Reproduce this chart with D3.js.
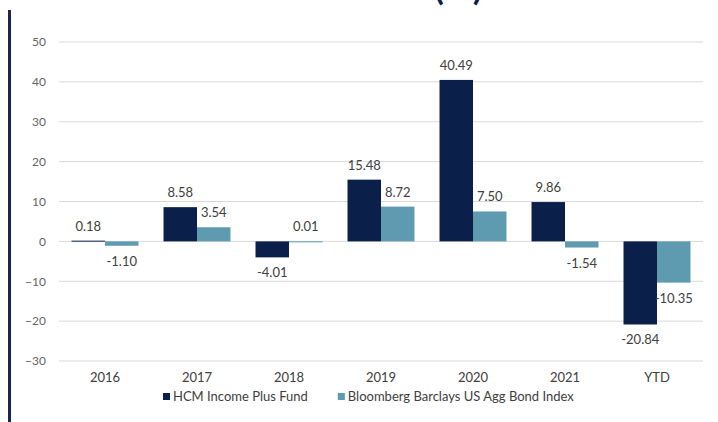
<!DOCTYPE html>
<html>
<head>
<meta charset="utf-8">
<script src="https://cdn.jsdelivr.net/npm/d3@7"></script>
<style>
  body { margin: 0; background: #fff; }
  svg { display: block; font-family: Lato, "Open Sans", sans-serif; }
</style>
</head>
<body>
<div id="chart"></div>
<script>
// chart values
const categories = ["2016", "2017", "2018", "2019", "2020", "2021", "YTD"];
const seriesNames = ["HCM Income Plus Fund", "Bloomberg Barclays US Agg Bond Index"];
const fundValues = [0.18, 8.58, -4.01, 15.48, 40.49, 9.86, -20.84];
const indexValues = [-1.10, 3.54, 0.01, 8.72, 7.50, -1.54, -10.35];
const yTicks = [-30, -20, -10, 0, 10, 20, 30, 40, 50];
const colors = ["#0a1f4a", "#5f9bb0"];

const width = 718, height = 422;

const svg = d3.select("#chart").append("svg")
    .attr("width", width)
    .attr("height", height);

// title, mostly cut off by the top edge like in the source
svg.append("text")
    .attr("x", 84)
    .attr("y", 0)
    .attr("font-size", 35)
    .attr("font-weight", "bold")
    .attr("fill", "#0a1f4a")
    .text("Calendar Year Returns (%)");

// vertical accent rule on the left
svg.append("rect")
    .attr("x", 8)
    .attr("y", 10)
    .attr("width", 3)
    .attr("height", height - 10)
    .attr("fill", "#1b2550");

const x = d3.scaleBand()
    .domain(categories)
    .range([59, 703])
    .paddingInner(0.272)
    .paddingOuter(0.136);

const xInner = d3.scaleBand()
    .domain(seriesNames)
    .range([0, x.bandwidth()]);

const y = d3.scaleLinear()
    .domain([-30, 50])
    .range([361, 42]);

// gridlines
svg.append("g")
    .selectAll("line")
    .data(yTicks)
    .join("line")
    .attr("x1", 59)
    .attr("x2", 703)
    .attr("y1", d => y(d))
    .attr("y2", d => y(d))
    .attr("stroke", "#d9d9d9")
    .attr("stroke-width", 1);

// y axis labels
const yAxis = svg.append("g")
    .attr("transform", "translate(59,0)")
    .call(d3.axisLeft(y).tickValues(yTicks).tickSize(0).tickPadding(13));
yAxis.select(".domain").remove();
yAxis.selectAll("text")
    .attr("font-family", "Lato, sans-serif")
    .attr("font-size", 12)
    .attr("fill", "#666666");

// x axis labels
const xAxis = svg.append("g")
    .attr("transform", "translate(0,361)")
    .call(d3.axisBottom(x).tickSize(0).tickPadding(12));
xAxis.select(".domain").remove();
xAxis.selectAll("text")
    .attr("font-family", "Lato, sans-serif")
    .attr("font-size", 13)
    .attr("fill", "#404040");

const rows = categories.map((c, i) => ({
    cat: c,
    vals: [fundValues[i], indexValues[i]]
}));

const groups = svg.append("g")
    .selectAll("g")
    .data(rows)
    .join("g")
    .attr("transform", d => `translate(${x(d.cat)},0)`);

const cells = groups.selectAll("g")
    .data(d => d.vals.map((v, j) => ({ name: seriesNames[j], v: v, j: j })))
    .join("g");

cells.append("rect")
    .attr("x", d => xInner(d.name))
    .attr("width", xInner.bandwidth())
    .attr("y", d => y(Math.max(0, d.v)))
    .attr("height", d => Math.max(1, Math.abs(y(d.v) - y(0))))
    .attr("fill", d => colors[d.j]);

cells.append("text")
    .attr("x", d => xInner(d.name) + xInner.bandwidth() / 2)
    .attr("y", d => d.v >= 0 ? y(d.v) - 10 : y(d.v) + 20)
    .attr("text-anchor", "middle")
    .attr("font-size", 13)
    .attr("fill", "#404040")
    .text(d => d.v.toFixed(2));

// legend
const legend = svg.append("g").attr("transform", "translate(163,397)");
let lx = 0;
seriesNames.forEach((name, i) => {
    legend.append("rect")
        .attr("x", lx)
        .attr("y", -4)
        .attr("width", 7)
        .attr("height", 7)
        .attr("fill", colors[i]);
    const t = legend.append("text")
        .attr("x", lx + 10)
        .attr("y", 4)
        .attr("font-size", 13)
        .attr("fill", "#404040")
        .text(name);
    lx += 10 + t.node().getComputedTextLength() + 30;
});
</script>
</body>
</html>
